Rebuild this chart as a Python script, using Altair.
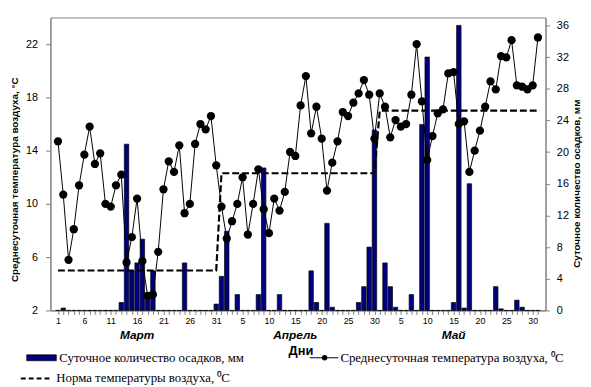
import altair as alt
import pandas as pd

days = list(range(1, 93))

temperature = [
    14.7, 10.7, 5.8, 8.1, 11.4, 13.7, 15.8, 13.0, 13.8, 10.0,
    9.8, 11.4, 12.2, 5.6, 7.5, 10.4, 5.7, 3.1, 3.2, 6.4,
    11.1, 13.2, 12.4, 14.4, 9.3, 10.0, 14.5, 16.0, 15.6, 16.6,
    12.9,
    9.8, 7.4, 8.7, 10.0, 12.0, 7.7, 10.0, 12.6, 9.6, 7.8,
    10.4, 9.5, 10.9, 13.9, 13.6, 17.4, 19.6, 15.3, 17.3, 14.9,
    11.0, 13.1, 14.7, 16.9, 16.6, 17.6, 18.3, 19.3, 18.2, 14.9,
    18.3, 17.3, 15.0, 16.3, 15.8, 16.0, 18.2, 22.0, 17.7, 13.3,
    15.1, 16.8, 17.1, 19.8, 19.9, 16.0, 16.2, 12.4, 14.0, 15.5,
    17.3, 19.2, 18.6, 21.1, 21.0, 22.3, 18.9, 18.8, 18.6, 18.9,
    22.5,
]

precipitation = [
    0, 0.3, 0, 0, 0, 0, 0, 0, 0, 0,
    0, 0, 1.0, 21.0, 5.0, 6.0, 9.0, 2.0, 5.0, 0,
    0, 0, 0, 0, 6.0, 0, 0, 0, 0, 0,
    0.8,
    4.3, 10.0, 0, 2.0, 0, 0, 0, 2.0, 18.0, 0,
    0, 2.0, 0, 0, 0, 0, 0, 5.0, 1.0, 0,
    11.0, 0.4, 0, 0, 0, 0, 1.0, 3.0, 8.0, 22.8,
    0, 6.0, 3.0, 0.4, 0, 0, 2.0, 0, 23.5, 32.0,
    0, 0, 0, 0, 1.0, 36.0, 0.3, 16.0, 0, 0,
    0, 0, 3.0, 0.2, 0, 0, 1.3, 0.4, 0, 0,
    0,
]

norm_by_month = [5.0, 12.3, 17.0]
month_lengths = [31, 30, 31]
month_names = ["Март", "Апрель", "Май"]
month_label_days = [16, 46, 76]

left_ticks = [2, 6, 10, 14, 18, 22]
right_ticks = [0, 4, 8, 12, 16, 20, 24, 28, 32, 36]

norm = []
for v, n in zip(norm_by_month, month_lengths):
    norm += [v] * n

df = pd.DataFrame({"day": days, "temp": temperature, "precip": precipitation, "norm": norm})
months_df = pd.DataFrame({"day": month_label_days, "label": month_names})
one = pd.DataFrame({"a": [0]})

W, H = 502, 297
GRAY = "#808080"
SANS = "Liberation Sans"
SERIF = "Liberation Serif"

xscale = alt.Scale(domain=[0.5, 92.5], nice=False, zero=False)
tscale = alt.Scale(domain=[2, 24], nice=False, zero=False)
pscale = alt.Scale(domain=[0, 37], nice=False, zero=False)

label_expr = ("(datum.value - 1) % 5 == 0 ? '' + (datum.value <= 31 ? datum.value : "
              "(datum.value <= 61 ? datum.value - 31 : datum.value - 61)) : ''")

xaxis = alt.Axis(values=days, labelExpr=label_expr, title=None, tickSize=4,
                 tickColor=GRAY, domainColor=GRAY, labelFontSize=9, labelPadding=2,
                 labelOverlap=False, labelFlush=False, grid=False, labelColor="black",
                 labelFont=SANS)

left_axis = alt.Axis(values=left_ticks, title="Среднесуточная температура воздуха, °С",
                     titleFontSize=10, titleFontWeight="bold", titleFont=SANS,
                     titleColor="black", labelFontSize=11, labelFont=SANS,
                     labelColor="black", labelPadding=8, tickSize=5, tickColor=GRAY,
                     domainColor=GRAY, titleX=-36, titleY=164, titleAngle=270,
                     titleAlign="center", titleBaseline="middle", grid=False)

right_axis = alt.Axis(orient="right", values=right_ticks,
                      title="Суточное количество осадков, мм",
                      titleFontSize=10, titleFontWeight="bold", titleFont=SANS,
                      titleColor="black", labelFontSize=11, labelFont=SANS,
                      labelColor="black", labelPadding=7, tickSize=4, tickColor=GRAY,
                      domainColor=GRAY, titleX=31, titleY=168, titleAngle=270,
                      titleAlign="center", titleBaseline="middle", grid=False)

X = alt.X("day:Q", scale=xscale, axis=xaxis)

bars = alt.Chart(df).mark_bar(size=4.5, color="#000080", stroke="black", strokeWidth=0.7).encode(
    x=X,
    y=alt.Y("precip:Q", scale=pscale, axis=right_axis),
)

norm_line = alt.Chart(df).mark_line(color="black", strokeWidth=2.2, strokeDash=[7, 3]).encode(
    x=X,
    y=alt.Y("norm:Q", scale=tscale, axis=left_axis),
)

temp_line = alt.Chart(df).mark_line(color="black", strokeWidth=1).encode(
    x=X,
    y=alt.Y("temp:Q", scale=tscale, axis=left_axis),
)

temp_pts = alt.Chart(df).mark_circle(color="black", size=70, opacity=1).encode(
    x=X,
    y=alt.Y("temp:Q", scale=tscale, axis=left_axis),
)

month_text = alt.Chart(months_df).mark_text(font=SANS, fontSize=12, fontWeight="bold",
                                            fontStyle="italic", color="black").encode(
    x=X,
    y=alt.value(322),
    text="label:N",
)

days_title = alt.Chart(one).mark_text(font=SANS, fontSize=13, fontWeight="bold",
                                      color="black", text="Дни").encode(
    x=alt.value(254), y=alt.value(338))

ROW1, ROW2 = 345, 366

leg_rect = alt.Chart(one).mark_rect(color="#000080", stroke="black", strokeWidth=0.7).encode(
    x=alt.value(-24), x2=alt.value(6), y=alt.value(ROW1 - 3), y2=alt.value(ROW1 + 3))
leg_rect_text = alt.Chart(one).mark_text(font=SERIF, fontSize=13, align="left",
                                         baseline="middle", color="black",
                                         text="Суточное количество осадков, мм").encode(
    x=alt.value(9), y=alt.value(ROW1))

leg_line = alt.Chart(one).mark_rule(color="black", strokeWidth=1).encode(
    x=alt.value(263), x2=alt.value(292), y=alt.value(ROW1))
leg_dot = alt.Chart(one).mark_circle(color="black", size=30, opacity=1).encode(
    x=alt.value(278), y=alt.value(ROW1))
leg_line_text = alt.Chart(one).mark_text(font=SERIF, fontSize=13, align="left",
                                         baseline="middle", color="black",
                                         text="Среднесуточная температура воздуха, ⁰C").encode(
    x=alt.value(294), y=alt.value(ROW1))

leg_dash = alt.Chart(one).mark_rule(color="black", strokeWidth=2, strokeDash=[5, 3]).encode(
    x=alt.value(-30), x2=alt.value(2), y=alt.value(ROW2))
leg_dash_text = alt.Chart(one).mark_text(font=SERIF, fontSize=13, align="left",
                                         baseline="middle", color="black",
                                         text="Норма температуры воздуха, ⁰C").encode(
    x=alt.value(6), y=alt.value(ROW2))

left_layer = alt.layer(norm_line, temp_line, temp_pts)

chart = alt.layer(
    bars, left_layer, month_text, days_title,
    leg_rect, leg_rect_text, leg_line, leg_dot, leg_line_text, leg_dash, leg_dash_text,
).resolve_scale(y="independent").properties(
    width=W, height=H,
    padding={"left": 43, "top": 7, "right": 38, "bottom": 75},
    autosize=alt.AutoSizeParams(type="none"),
    background="white",
).configure_view(stroke=GRAY, strokeWidth=1).configure_axis(grid=False)

chart.save("out.html", embed_options={"renderer": "svg", "actions": False})
